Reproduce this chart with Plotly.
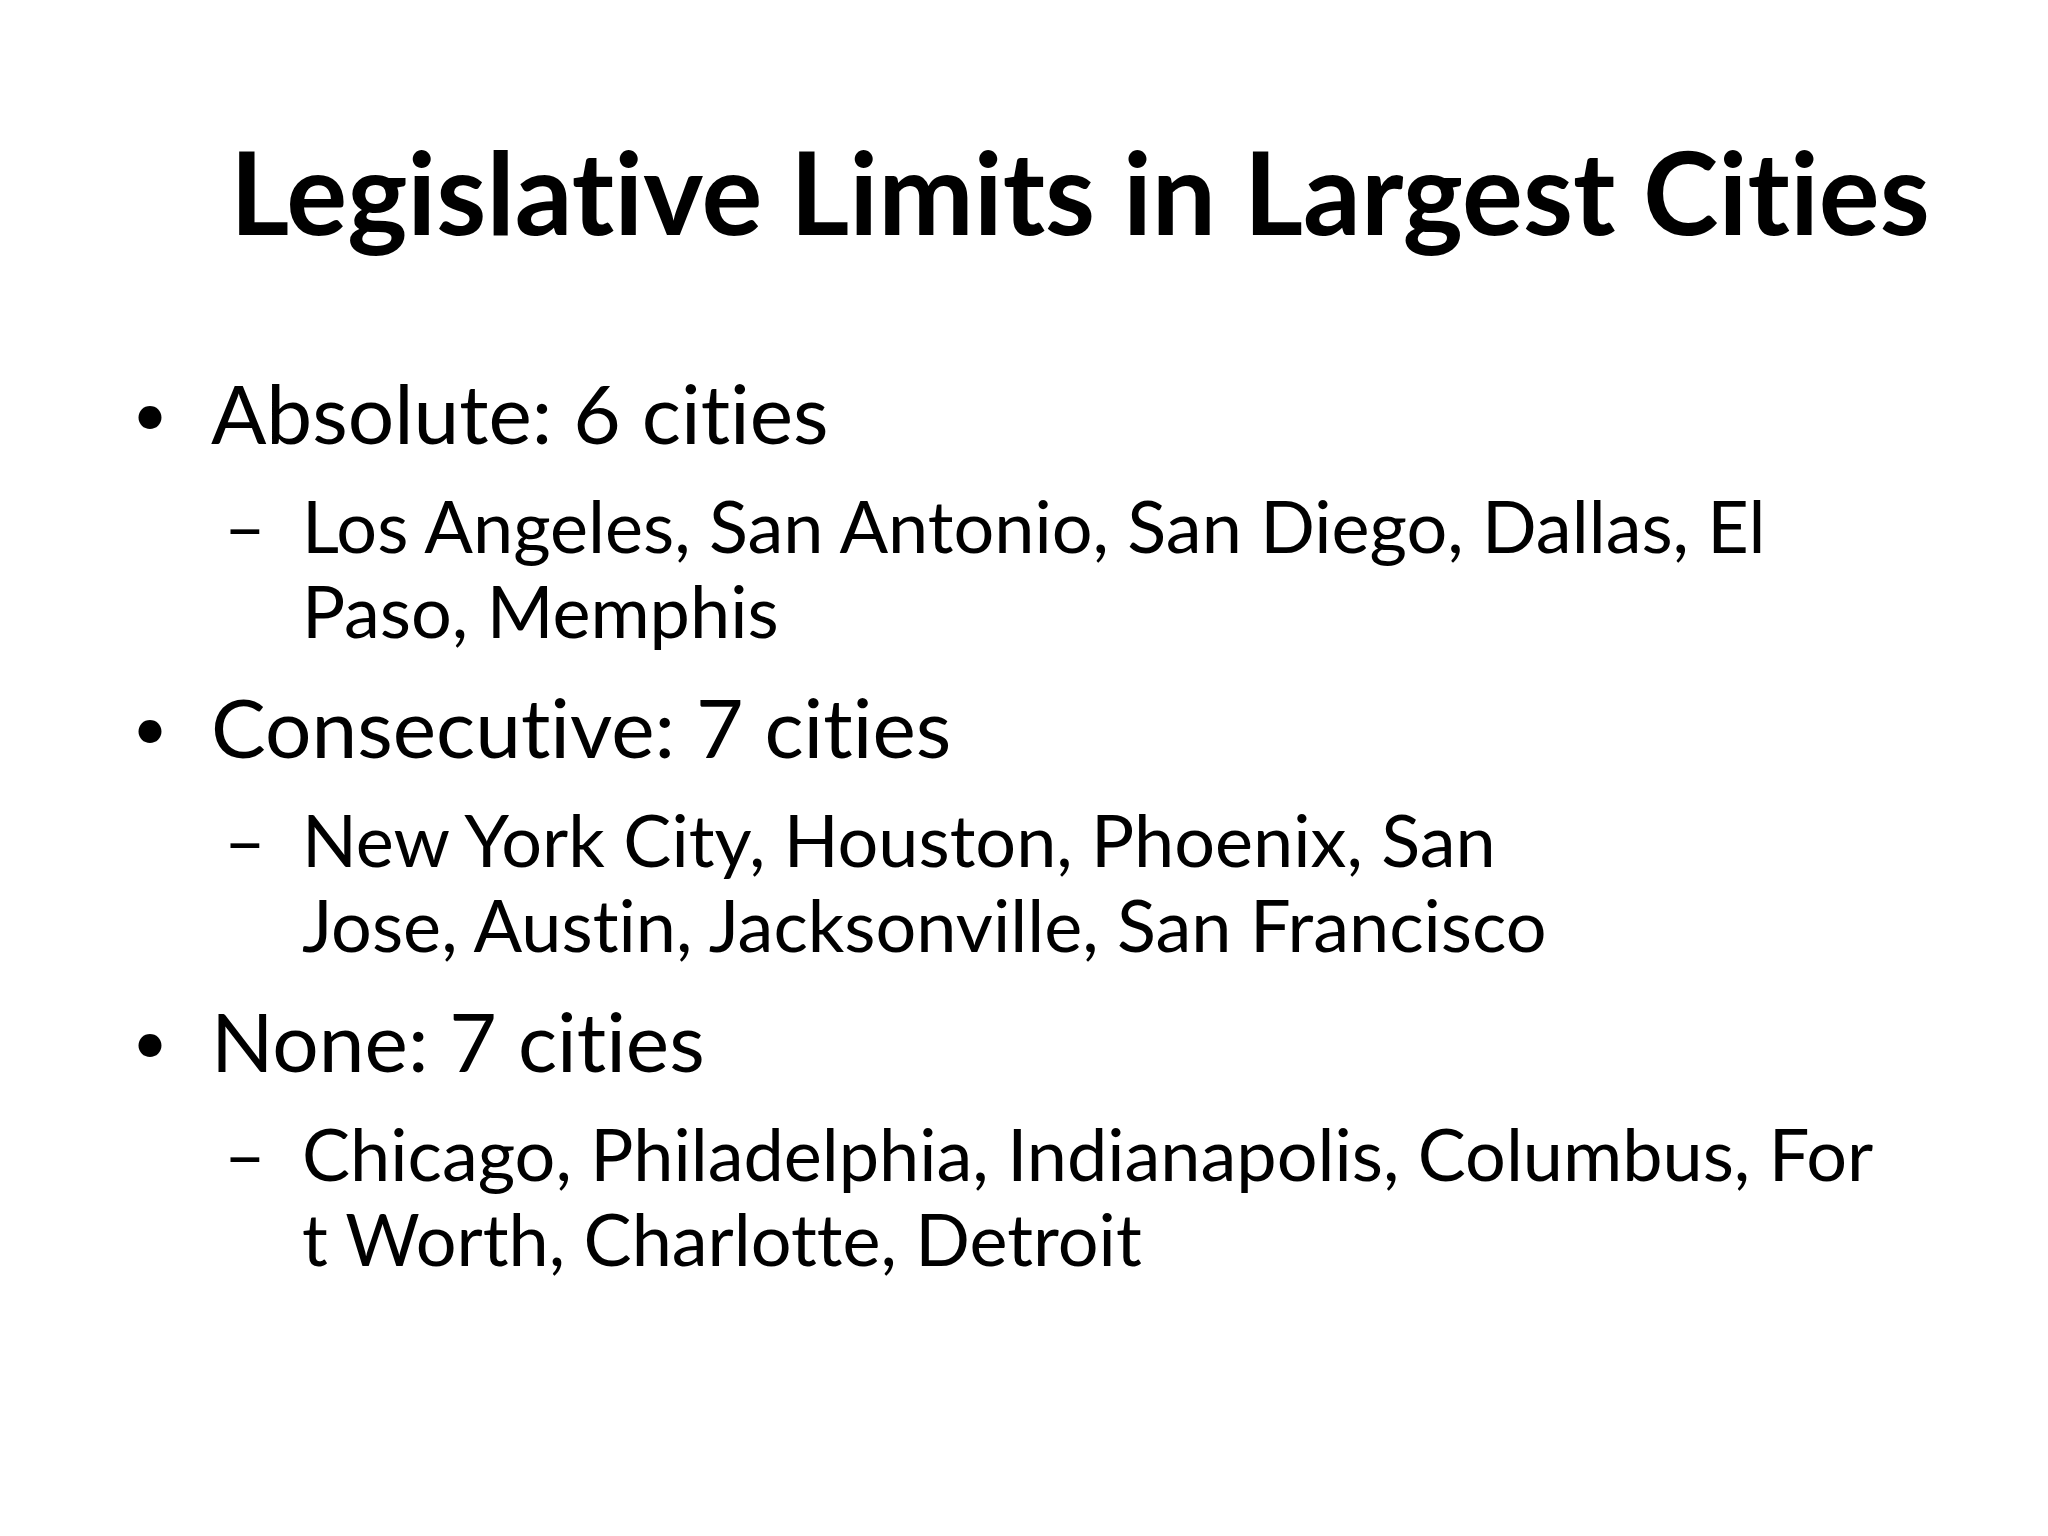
import plotly.graph_objects as go

W, H = 2048, 1536

title = "Legislative Limits in Largest Cities"
categories = ["Absolute", "Consecutive", "None"]
counts = [6, 7, 7]
city_lines = [
    ["Los Angeles, San Antonio, San Diego, Dallas, El", "Paso, Memphis"],
    ["New York City, Houston, Phoenix, San", "Jose, Austin, Jacksonville, San Francisco"],
    ["Chicago, Philadelphia, Indianapolis, Columbus, For", "t Worth, Charlotte, Detroit"],
]

FONT = "Lato, Open Sans, sans-serif"
fig = go.Figure()
fig.update_layout(width=W, height=H, margin=dict(l=0, r=0, t=0, b=0),
                  paper_bgcolor="white", plot_bgcolor="white",
                  xaxis=dict(visible=False, range=[0, W]),
                  yaxis=dict(visible=False, range=[H, 0]))

def txt(x, y, s, size, bold=False, anchor="left"):
    # break the Lato "ti"/"tt" ligatures
    s = s.replace("ti", "t\u200ci").replace("tt", "t\u200ct")
    fig.add_annotation(x=x, y=y, xref="x", yref="y", text=f"<b>{s}</b>" if bold else s,
                       showarrow=False, xanchor=anchor, yanchor="middle",
                       font=dict(family=FONT, size=size, color="black"))

txt(1072, 182, title, 114, bold=True, anchor="center")

y = 404
for cat, n, lines in zip(categories, counts, city_lines):
    txt(122, y, "•", 62)
    txt(201, y, f"{cat}: {n} cities", 82)
    y += 113
    txt(214, y, "–", 72)
    for i, line in enumerate(lines):
        txt(292, y, line, 72)
        if i < len(lines) - 1:
            y += 85
    y += 116

fig.write_html("out.html")
